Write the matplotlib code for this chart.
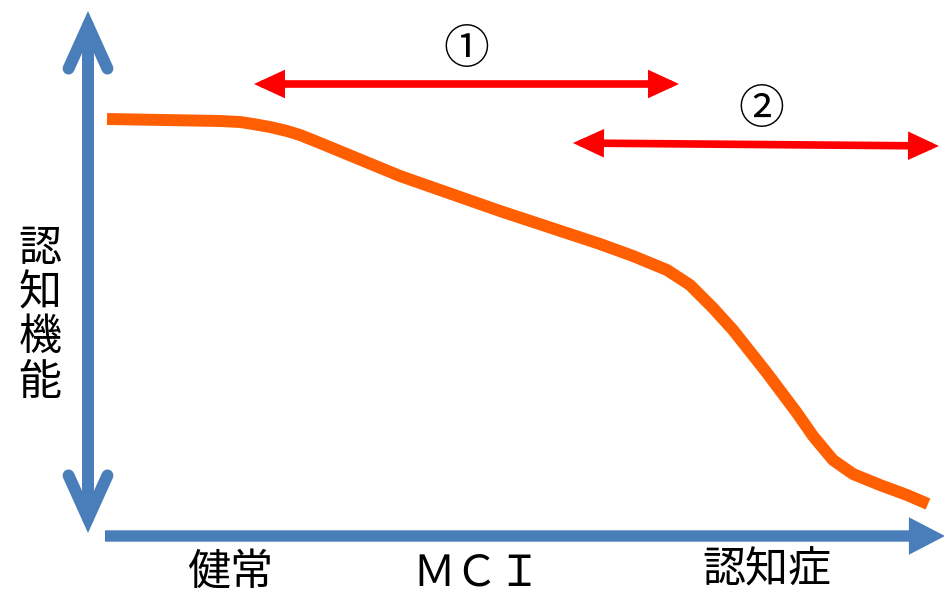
import numpy as np
import matplotlib.pyplot as plt
from matplotlib.patches import FancyArrowPatch

plt.rcParams['font.family'] = ['Noto Sans CJK JP', 'DejaVu Sans']

# Cognitive decline curve (image coordinates, y grows downward)
stage_x = [107, 220, 240, 253, 270, 287, 300, 320, 400, 500, 600, 633, 667, 690, 713,
           733, 767, 797, 813, 833, 853, 880, 907, 928]
cognition_y = [119, 121, 122, 124, 127, 131, 135, 143, 176, 211, 244, 256, 270, 285, 308,
               330, 373, 413, 436, 460, 474, 485, 495, 504]

# Stage labels along the horizontal axis
stage_labels = ['健常', 'ＭＣＩ', '認知症']
stage_label_x = [230, 477, 767]
stage_label_y = [573, 573, 570]

# Period arrows ① and ②
period_labels = ['①', '②']
period_start = [(254, 84), (573, 143)]
period_end = [(679, 84), (939, 146)]
period_label_pos = [(466, 50), (761, 110)]

blue = '#4a7ebb'
orange = '#ff5f00'
red = '#ff0000'

fig = plt.figure(figsize=(9.45, 5.97), dpi=100)
ax = fig.add_axes([0, 0, 1, 1])
ax.set_xlim(0, 945)
ax.set_ylim(597, 0)
ax.axis('off')

# vertical axis: open chevrons at both ends
ax.add_patch(FancyArrowPatch((88, 533), (88, 11),
                             arrowstyle='<->,head_length=31,head_width=14',
                             color=blue, lw=8.6, capstyle='round', joinstyle='miter',
                             shrinkA=0, shrinkB=0, mutation_scale=1))

# horizontal axis: filled head
ax.add_patch(FancyArrowPatch((105, 536), (945, 536),
                             arrowstyle='simple,head_length=26,head_width=27,tail_width=8.2',
                             color=blue, lw=0, shrinkA=0, shrinkB=0, mutation_scale=1))

# curve
ax.plot(stage_x, cognition_y, color=orange, lw=8.6, solid_capstyle='butt',
        solid_joinstyle='round')

# period arrows
for (p0, p1, lab, lp) in zip(period_start, period_end, period_labels, period_label_pos):
    ax.add_patch(FancyArrowPatch(p0, p1,
                                 arrowstyle='<|-|>,head_length=13,head_width=6',
                                 color=red, lw=5.5, joinstyle='miter',
                                 shrinkA=0, shrinkB=0, mutation_scale=1))
    ax.text(lp[0], lp[1], lab, fontsize=33, ha='center', va='center', color='black')

# y axis title, stacked vertically
ax.text(40, 316, '認\n知\n機\n能', fontsize=31, ha='center', va='center',
        linespacing=1.02, color='black')

for lab, x, y in zip(stage_labels, stage_label_x, stage_label_y):
    ax.text(x, y, lab, fontsize=31, ha='center', va='center', color='black')

fig.savefig('out.png', dpi=100)
